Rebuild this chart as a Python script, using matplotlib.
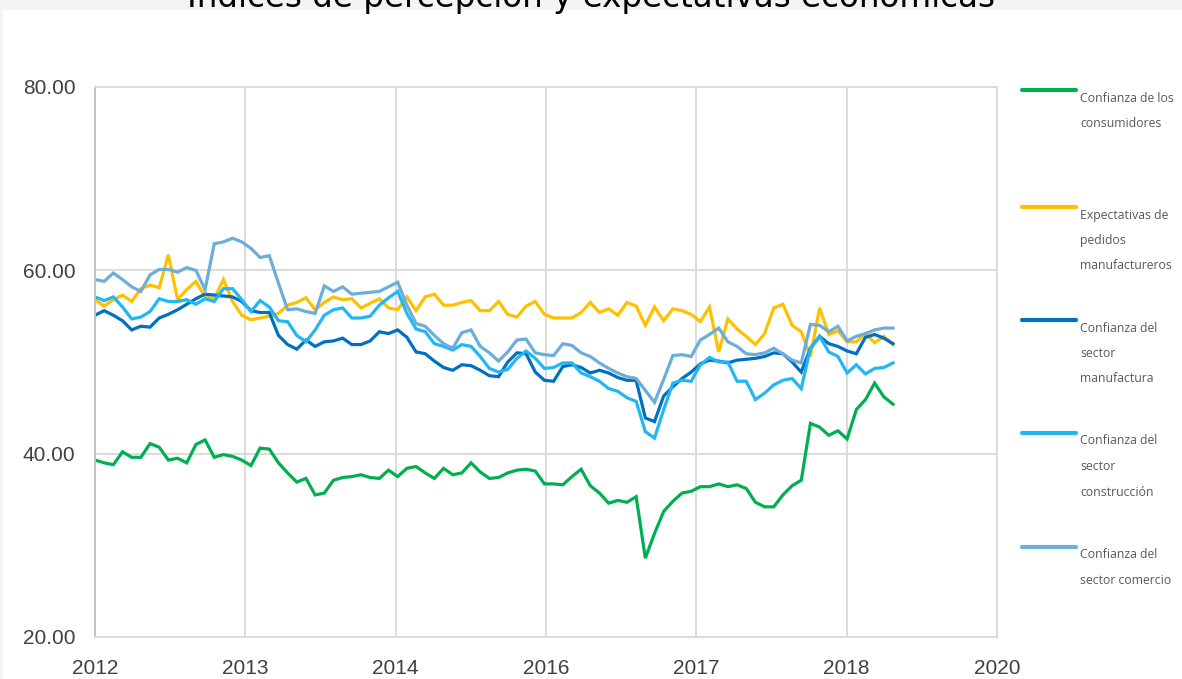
import numpy as np
import matplotlib
matplotlib.use("Agg")
import matplotlib.pyplot as plt
from matplotlib.lines import Line2D
from matplotlib.patches import Rectangle

# Datos mensuales
consumidores = [39.3, 39.0, 38.8, 40.2, 39.6, 39.6, 41.1, 40.7, 39.3, 39.5, 39.0, 41.0,
                41.5, 39.6, 39.9, 39.7, 39.3, 38.7, 40.6, 40.5, 39.0, 37.9, 36.9, 37.3,
                35.5, 35.7, 37.1, 37.4, 37.5, 37.7, 37.4, 37.3, 38.2, 37.5, 38.4, 38.6,
                37.9, 37.3, 38.4, 37.7, 37.9, 39.0, 38.0, 37.3, 37.4, 37.9, 38.2, 38.3,
                38.1, 36.7, 36.7, 36.6, 37.5, 38.3, 36.5, 35.7, 34.6, 34.9, 34.7, 35.3,
                28.6, 31.3, 33.7, 34.8, 35.7, 35.9, 36.4, 36.4, 36.7, 36.4, 36.6, 36.2,
                34.7, 34.2, 34.2, 35.5, 36.5, 37.1, 43.3, 42.9, 42.0, 42.5, 41.6, 44.8,
                45.9, 47.7, 46.2, 45.4]

expectativas = [56.8, 56.1, 56.8, 57.3, 56.6, 58.0, 58.4, 58.1, 61.7, 56.8, 57.9, 58.8,
                57.1, 56.9, 59.0, 56.6, 55.1, 54.6, 54.8, 55.0, 55.3, 56.2, 56.5, 57.0,
                55.7, 56.5, 57.1, 56.8, 56.9, 55.9, 56.4, 56.9, 55.9, 55.7, 57.1, 55.6,
                57.1, 57.4, 56.2, 56.2, 56.5, 56.7, 55.6, 55.6, 56.6, 55.2, 54.9, 56.1,
                56.6, 55.2, 54.8, 54.8, 54.8, 55.4, 56.5, 55.4, 55.8, 55.1, 56.5, 56.1,
                54.0, 56.0, 54.5, 55.8, 55.6, 55.2, 54.4, 56.0, 51.1, 54.7, 53.6, 52.8,
                51.9, 53.1, 55.9, 56.3, 54.0, 53.3, 50.6, 55.9, 53.0, 53.4, 52.2, 52.2,
                53.1, 52.1, 52.8, 51.9]

manufactura = [55.1, 55.6, 55.1, 54.5, 53.5, 53.9, 53.8, 54.8, 55.2, 55.7, 56.3, 56.9,
               57.4, 57.3, 57.2, 57.1, 56.6, 55.6, 55.4, 55.4, 52.9, 51.9, 51.4, 52.4,
               51.7, 52.2, 52.3, 52.6, 51.9, 51.9, 52.3, 53.3, 53.1, 53.5, 52.7, 51.1,
               50.9, 50.1, 49.4, 49.1, 49.7, 49.6, 49.1, 48.5, 48.4, 50.0, 51.0, 50.9,
               48.9, 48.0, 47.9, 49.5, 49.7, 49.4, 48.8, 49.1, 48.8, 48.3, 48.0, 48.0,
               43.9, 43.5, 46.3, 47.3, 48.2, 48.9, 49.8, 50.2, 50.1, 49.9, 50.2, 50.3,
               50.4, 50.6, 51.0, 50.9, 50.0, 48.9, 51.5, 52.8, 52.0, 51.7, 51.2, 50.9,
               52.7, 53.0, 52.6, 52.0]

construccion = [57.1, 56.7, 57.1, 56.0, 54.7, 54.9, 55.5, 56.9, 56.6, 56.6, 56.8, 56.3,
                56.9, 56.6, 58.0, 58.0, 56.8, 55.5, 56.7, 56.0, 54.5, 54.4, 52.9, 52.2,
                53.5, 55.1, 55.7, 55.9, 54.8, 54.8, 55.0, 56.2, 57.0, 57.7, 55.3, 53.6,
                53.3, 52.0, 51.7, 51.3, 51.9, 51.7, 50.6, 49.3, 48.9, 49.2, 50.4, 51.2,
                50.4, 49.3, 49.4, 49.9, 49.9, 48.8, 48.4, 47.9, 47.1, 46.8, 46.1, 45.7,
                42.4, 41.7, 44.8, 47.7, 48.0, 47.9, 49.7, 50.5, 50.0, 50.0, 47.9, 47.9,
                45.9, 46.6, 47.5, 48.0, 48.2, 47.1, 51.5, 52.8, 51.1, 50.6, 48.8, 49.7,
                48.7, 49.3, 49.4, 49.9]

comercio = [59.0, 58.8, 59.7, 59.0, 58.2, 57.7, 59.5, 60.1, 60.1, 59.8, 60.3, 60.0,
            57.9, 62.9, 63.1, 63.5, 63.1, 62.4, 61.4, 61.6, 58.6, 55.7, 55.8, 55.5,
            55.3, 58.3, 57.7, 58.2, 57.4, 57.5, 57.6, 57.7, 58.2, 58.7, 56.2, 54.2,
            53.9, 52.9, 52.0, 51.5, 53.2, 53.5, 51.7, 51.0, 50.1, 51.1, 52.4, 52.5,
            51.0, 50.8, 50.7, 52.0, 51.8, 51.0, 50.6, 49.9, 49.3, 48.8, 48.4, 48.2,
            46.9, 45.6, 48.1, 50.7, 50.8, 50.6, 52.4, 53.0, 53.7, 52.2, 51.7, 50.9,
            50.8, 51.0, 51.5, 50.9, 50.2, 49.9, 54.1, 54.0, 53.3, 53.9, 52.3, 52.8,
            53.1, 53.5, 53.7, 53.7]

etiquetas_x = ["2012", "2013", "2014", "2016", "2017", "2018", "2020"]
ticks_y = [20, 40, 60, 80]

series = [
    ("Confianza de los\nconsumidores", consumidores, "#00B050"),
    ("Expectativas de\npedidos\nmanufactureros", expectativas, "#FFC000"),
    ("Confianza del\nsector\nmanufactura", manufactura, "#0070C0"),
    ("Confianza del\nsector\nconstrucción", construccion, "#21B6F4"),
    ("Confianza del\nsector comercio", comercio, "#6BAED9"),
]

W, H = 1182, 679
fig = plt.figure(figsize=(W / 100, H / 100), dpi=100, facecolor="#F4F4F4")
fig.patches.append(Rectangle((3 / W, 0), 1, 1 - 10 / H, transform=fig.transFigure,
                             facecolor="white", edgecolor="none", zorder=-10))

ax = fig.add_axes([95 / W, 1 - 637 / H, (997 - 95) / W, (637 - 87) / H])
ax.set_facecolor("white")

meses = np.arange(len(consumidores))
x_max = 98.34  # el eje de Excel va hasta "2020"

for nombre, valores, color in series:
    ax.plot(meses, valores, color=color, linewidth=2.3, solid_joinstyle="miter")

ax.set_xlim(0, x_max)
ax.set_ylim(20, 80)
ax.set_xticks(np.linspace(0, x_max, len(etiquetas_x)))
ax.set_xticklabels(etiquetas_x)
ax.set_yticks(ticks_y)
ax.set_yticklabels([f"{v:.2f}" for v in ticks_y])

ax.grid(True, color="#D9D9D9", linewidth=1.3)
ax.set_axisbelow(True)
for lado in ["top", "right", "bottom"]:
    ax.spines[lado].set_color("#D9D9D9")
    ax.spines[lado].set_linewidth(1.3)
ax.spines["left"].set_color("#BFBFBF")
ax.spines["left"].set_linewidth(1.3)

ax.tick_params(axis="both", length=0, labelsize=15, labelcolor="#404040")
ax.tick_params(axis="x", pad=15.5)
ax.tick_params(axis="y", pad=14)
for t in ax.get_xticklabels() + ax.get_yticklabels():
    t.set_fontfamily("Liberation Sans")

# Título (cortado arriba, como en la imagen)
fig.text(0.5, 1 - 7 / H, "Índices de percepción y expectativas económicas",
         ha="center", va="baseline", fontsize=23.5, color="black",
         family="DejaVu Sans")

# Leyenda a mano
y_linea = [90, 207, 320, 433, 547]
for (nombre, valores, color), yl in zip(series, y_linea):
    fig.add_artist(Line2D([1022 / W, 1076 / W], [1 - yl / H, 1 - yl / H],
                          transform=fig.transFigure, color=color, linewidth=3,
                          solid_capstyle="round"))
    for k, linea in enumerate(nombre.split("\n")):
        yt = yl + 8 + k * 25.5
        fig.text(1080 / W, 1 - yt / H, linea, ha="left", va="center",
                 fontsize=8.8, color="#595959", family="Open Sans")

fig.savefig("out.png", dpi=100, facecolor=fig.get_facecolor())
